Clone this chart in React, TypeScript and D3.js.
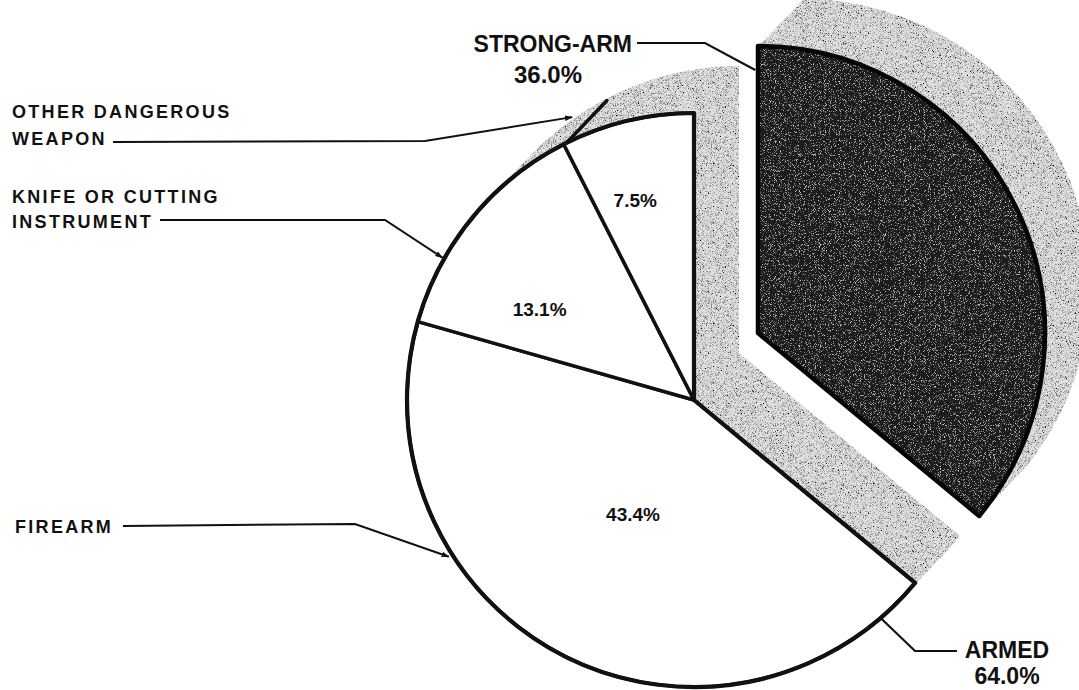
import * as d3 from "d3";

// ── Data ──────────────────────────────────────────────────────────────────────

const CATEGORIES = ["STRONG-ARM", "FIREARM", "KNIFE OR CUTTING INSTRUMENT", "OTHER DANGEROUS WEAPON"];
const VALUES = [36.0, 43.4, 13.1, 7.5];
const SLICE_LABELS = ["36.0%", "43.4%", "13.1%", "7.5%"];
const GROUP_NAMES = ["STRONG-ARM", "ARMED"];
const GROUP_TOTALS = ["36.0%", "64.0%"];

// ── Layout ────────────────────────────────────────────────────────────────────

const W = 1079;
const H = 690;
const CX = 694;
const CY = 400;
const R = 287;
const EXPLODE = [64, -67];   // strong-arm slice pulled out
const DEPTH = [45, -47];     // 3-D thickness direction
const STEPS = 32;
const FONT = "'Liberation Sans', Arial, Helvetica, sans-serif";

// slice label placement (degrees clockwise from top, radius)
const SLICE_LABEL_POS = [null, { a: 208.2, r: 129 }, { a: 300.4, r: 179 }, { a: 343.6, r: 208 }];

// leader callouts for the left-hand categories
const CALLOUTS = [
  { idx: 3, lines: ["OTHER DANGEROUS", "WEAPON"], x: 12, y: 118, gap: 27, start: [113, 142], elbow: [425, 141], tip: { a: 336.7, r: 308 } },
  { idx: 2, lines: ["KNIFE OR CUTTING", "INSTRUMENT"], x: 12, y: 203, gap: 25, start: [160, 220], elbow: [385, 220], tip: { a: 299.5, r: 289 } },
  { idx: 1, lines: ["FIREARM"], x: 15, y: 533, gap: 0, start: [123, 526], elbow: [355, 524], tip: { a: 237.4, r: 291 } },
];

const rad = (deg: number) => (deg * Math.PI) / 180;
const polar = (c: number[], a: number, r: number) => [c[0] + r * Math.sin(a), c[1] - r * Math.cos(a)];

const App = () => {
  const slices = d3.pie<number>().sort(null).value((d) => d)(VALUES);
  const arc = d3.arc<{ startAngle: number; endAngle: number }>().innerRadius(0).outerRadius(R);

  const strong = slices[0];
  const armedArc = { startAngle: slices[1].startAngle, endAngle: slices[3].endAngle };
  const armedPath = arc(armedArc) ?? "";
  const strongPath = arc(strong) ?? "";
  const center = [CX, CY];
  const saCenter = [CX + EXPLODE[0], CY + EXPLODE[1]];

  const steps = d3.range(STEPS + 1).map((i) => i / STEPS);

  // edges of internal boundaries, seen on the extrusion
  const boundaryEdges = slices.slice(2).map((s) => {
    const p = polar(center, s.startAngle, R - 1);
    return [p, [p[0] + DEPTH[0] * 0.95, p[1] + DEPTH[1] * 0.95]];
  });

  const saTip = polar(saCenter, rad(-0.6), 263);
  const armedTip = polar(center, rad(139.4), R + 1);

  return (
    <svg width={W} height={H} style={{ position: "absolute", left: 0, top: 0, background: "#fff" }}>
      <defs>
        <filter id="grainLight" x="-2%" y="-2%" width="104%" height="104%">
          <feTurbulence type="fractalNoise" baseFrequency="1.6" numOctaves="2" seed="4" result="n" />
          <feColorMatrix in="n" type="matrix" values="0 0 0 0 0  0 0 0 0 0  0 0 0 0 0  3.0 0 0 0 -1.4" result="dots" />
          <feComposite in="dots" in2="SourceAlpha" operator="in" result="d2" />
          <feMerge>
            <feMergeNode in="SourceGraphic" />
            <feMergeNode in="d2" />
          </feMerge>
        </filter>
        <filter id="grainDark" x="-2%" y="-2%" width="104%" height="104%">
          <feTurbulence type="fractalNoise" baseFrequency="1.2" numOctaves="2" seed="9" result="n" />
          <feColorMatrix in="n" type="matrix" values="0 0 0 0 1  0 0 0 0 1  0 0 0 0 1  3.0 0 0 0 -1.75" result="dots" />
          <feComposite in="dots" in2="SourceAlpha" operator="in" result="d2" />
          <feMerge>
            <feMergeNode in="SourceGraphic" />
            <feMergeNode in="d2" />
          </feMerge>
        </filter>
        <marker id="arrow" viewBox="0 0 10 10" refX="9" refY="5" markerWidth="8" markerHeight="8" orient="auto" markerUnits="userSpaceOnUse">
          <path d="M0,1.5 L10,5 L0,8.5 Z" fill="#111" />
        </marker>
      </defs>

      {/* extrusions */}
      <g filter="url(#grainLight)">
        {steps.map((t) => (
          <path key={`a${t}`} d={armedPath} fill="#e2e2e2"
            transform={`translate(${CX + DEPTH[0] * t},${CY + DEPTH[1] * t})`} />
        ))}
        {steps.map((t) => (
          <path key={`s${t}`} d={strongPath} fill="#e2e2e2"
            transform={`translate(${saCenter[0] + DEPTH[0] * t},${saCenter[1] + DEPTH[1] * t})`} />
        ))}
      </g>

      {boundaryEdges.map((e, i) => (
        <line key={`be${i}`} x1={e[0][0]} y1={e[0][1]} x2={e[1][0]} y2={e[1][1]}
          stroke="#111" strokeWidth={3.5} strokeLinecap="round" />
      ))}

      {/* armed faces */}
      <g transform={`translate(${CX},${CY})`}>
        {slices.slice(1).map((s, i) => (
          <path key={CATEGORIES[i + 1]} d={arc(s) ?? ""} fill="#fff" stroke="#111" strokeWidth={3.5} strokeLinejoin="round" />
        ))}
        <path d={armedPath} fill="none" stroke="#111" strokeWidth={4.2} strokeLinejoin="round" />
      </g>

      {/* strong-arm face */}
      <g transform={`translate(${saCenter[0]},${saCenter[1]})`}>
        <path d={strongPath} fill="#1c1c1c" filter="url(#grainDark)" />
        <path d={strongPath} fill="none" stroke="#050505" strokeWidth={4.5} strokeLinejoin="round" />
      </g>

      {/* slice labels */}
      {slices.map((s, i) => {
        const pos = SLICE_LABEL_POS[i];
        if (!pos) return null;
        const [x, y] = polar(center, rad(pos.a), pos.r);
        return (
          <text key={`sl${i}`} x={x} y={y} dy="0.36em" textAnchor="middle" fontFamily={FONT}
            fontWeight="bold" fontSize={19} fill="#111">{SLICE_LABELS[i]}</text>
        );
      })}

      {/* left callouts */}
      {CALLOUTS.map((c) => {
        const tip = polar(center, rad(c.tip.a), c.tip.r);
        return (
          <g key={CATEGORIES[c.idx]}>
            {c.lines.map((ln, j) => (
              <text key={ln} x={c.x} y={c.y + j * c.gap}
                fontFamily={FONT} fontWeight="bold" fontSize={18} letterSpacing={2.3} fill="#111">{ln}</text>
            ))}
            <polyline points={`${c.start[0]},${c.start[1]} ${c.elbow[0]},${c.elbow[1]} ${tip[0]},${tip[1]}`}
              fill="none" stroke="#111" strokeWidth={2} markerEnd="url(#arrow)" />
          </g>
        );
      })}

      {/* strong-arm group label */}
      <text x={632} y={52} textAnchor="end" fontFamily={FONT} fontWeight="bold" fontSize={23} fill="#111">{GROUP_NAMES[0]}</text>
      <text x={548} y={83} textAnchor="middle" fontFamily={FONT} fontWeight="bold" fontSize={24} fill="#111">{GROUP_TOTALS[0]}</text>
      <polyline points={`637,43 705,43 ${saTip[0]},${saTip[1]}`} fill="none" stroke="#111" strokeWidth={2.2} />

      {/* armed group label */}
      <text x={1007} y={658} textAnchor="middle" fontFamily={FONT} fontWeight="bold" fontSize={23} fill="#111">{GROUP_NAMES[1]}</text>
      <text x={1007} y={684} textAnchor="middle" fontFamily={FONT} fontWeight="bold" fontSize={23} fill="#111">{GROUP_TOTALS[1]}</text>
      <polyline points={`957,651 915,651 ${armedTip[0]},${armedTip[1]}`} fill="none" stroke="#111" strokeWidth={2.2} />
    </svg>
  );
};

export default App;
